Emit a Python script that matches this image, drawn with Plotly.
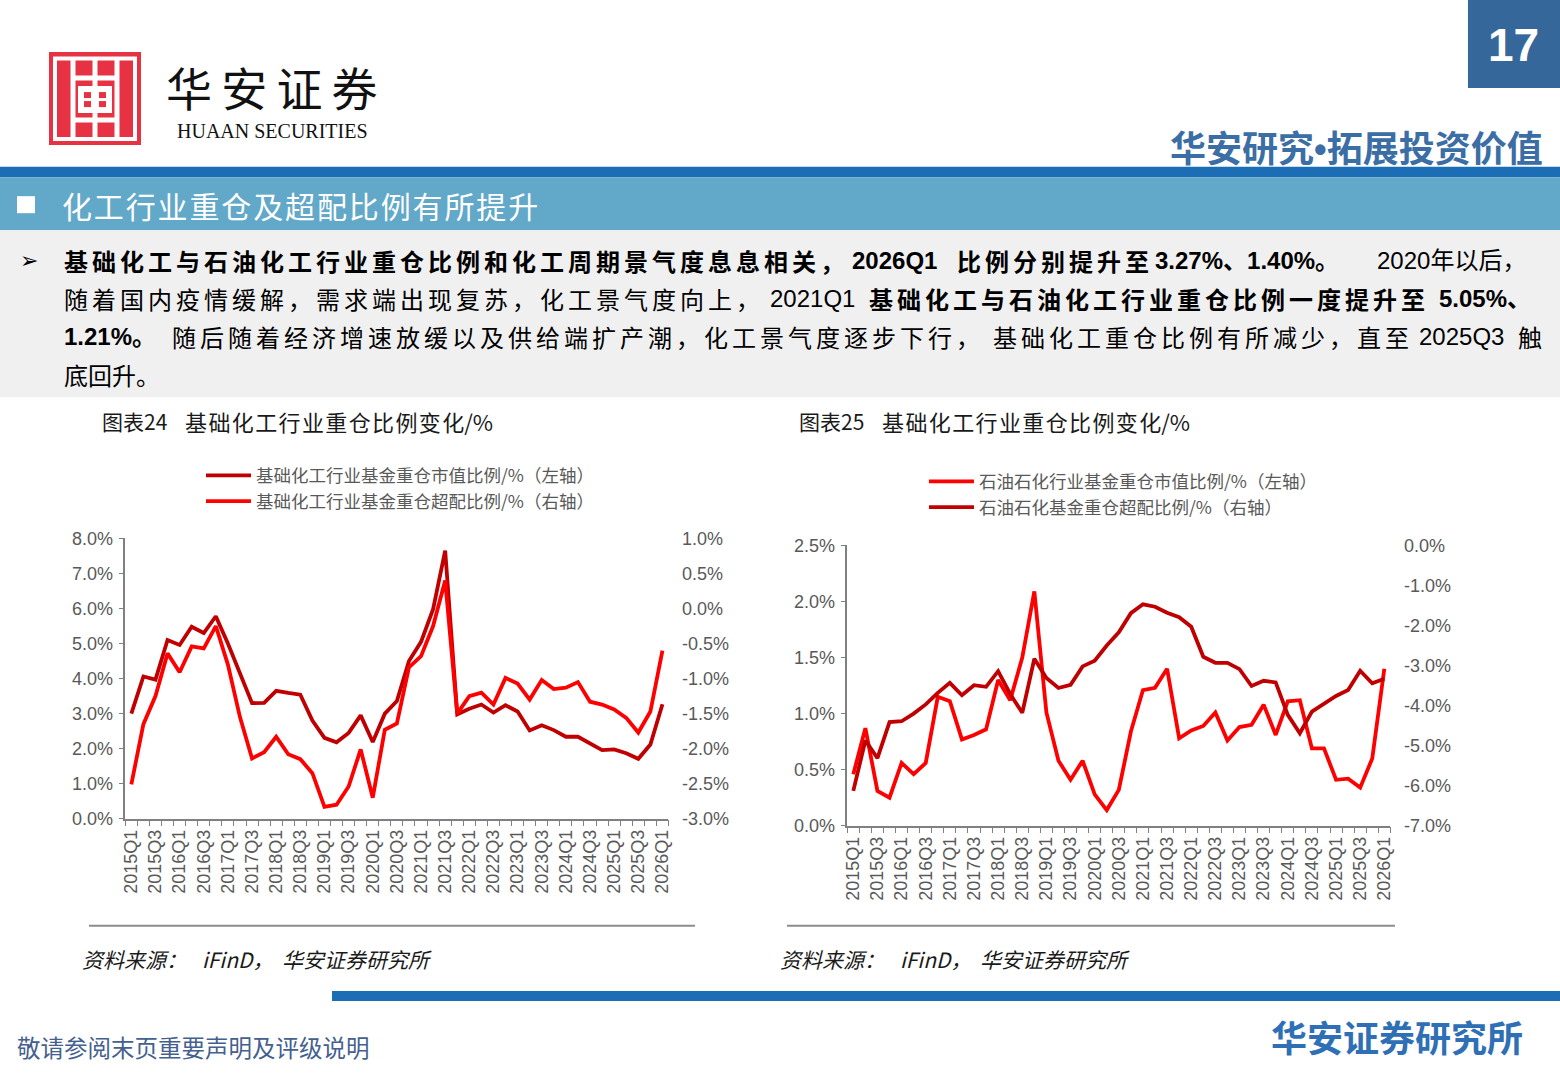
import plotly.graph_objects as go

W, H = 1560, 1080
# the rendered page is observed slightly inset; map intended page pixels to figure paper coords
SX, OX = 0.9949, 4.0
SY, OY = 0.9806, 10.0
def X(px): return ((px - OX) / SX) / W
def Y(py): return 1 - ((py - OY) / SY) / H

# ---------------- data ----------------
quarters = [f"{y}Q{q}" for y in range(2015, 2026) for q in (1, 2, 3, 4)] + ["2026Q1"]

chem_weight = [3.00, 4.06, 3.97, 5.10, 4.96, 5.48, 5.30, 5.78, 5.00, 4.17,
               3.30, 3.31, 3.65, 3.59, 3.54, 2.80, 2.31, 2.18, 2.45, 2.95,
               2.19, 3.00, 3.36, 4.50, 5.05, 5.98, 7.65, 2.98, 3.14, 3.26,
               3.03, 3.24, 3.06, 2.52, 2.67, 2.53, 2.34, 2.34, 2.14, 1.96,
               1.98, 1.87, 1.71, 2.12, 3.27]
chem_excess = [-2.51, -1.65, -1.25, -0.64, -0.91, -0.54, -0.57, -0.25, -0.80, -1.55,
               -2.14, -2.05, -1.83, -2.08, -2.15, -2.35, -2.83, -2.80, -2.54, -2.01,
               -2.70, -1.73, -1.64, -0.84, -0.68, -0.25, 0.40, -1.50, -1.25, -1.20,
               -1.37, -0.99, -1.07, -1.30, -1.02, -1.15, -1.13, -1.05, -1.33, -1.37,
               -1.44, -1.56, -1.77, -1.47, -0.60]
petro_weight = [0.46, 0.87, 0.31, 0.25, 0.56, 0.46, 0.56, 1.15, 1.11, 0.77,
                0.81, 0.86, 1.30, 1.12, 1.50, 2.09, 1.01, 0.58, 0.41, 0.58,
                0.28, 0.14, 0.32, 0.84, 1.21, 1.23, 1.40, 0.78, 0.85, 0.89,
                1.01, 0.76, 0.88, 0.90, 1.08, 0.81, 1.11, 1.12, 0.69, 0.69,
                0.41, 0.42, 0.34, 0.60, 1.40]
petro_excess = [-6.13, -4.87, -5.31, -4.41, -4.39, -4.20, -3.97, -3.68, -3.43, -3.74,
                -3.49, -3.53, -3.14, -3.71, -4.18, -2.83, -3.31, -3.56, -3.48, -3.02,
                -2.88, -2.50, -2.17, -1.69, -1.47, -1.53, -1.68, -1.79, -2.03, -2.78,
                -2.93, -2.93, -3.09, -3.51, -3.38, -3.42, -4.23, -4.69, -4.15, -3.96,
                -3.76, -3.61, -3.13, -3.44, -3.33]

c1_left_vals = [0, 1, 2, 3, 4, 5, 6, 7, 8]
c1_left_text = ["0.0%", "1.0%", "2.0%", "3.0%", "4.0%", "5.0%", "6.0%", "7.0%", "8.0%"]
c1_right_vals = [-3.0, -2.5, -2.0, -1.5, -1.0, -0.5, 0.0, 0.5, 1.0]
c1_right_text = ["-3.0%", "-2.5%", "-2.0%", "-1.5%", "-1.0%", "-0.5%", "0.0%", "0.5%", "1.0%"]
c2_left_vals = [0, 0.5, 1.0, 1.5, 2.0, 2.5]
c2_left_text = ["0.0%", "0.5%", "1.0%", "1.5%", "2.0%", "2.5%"]
c2_right_vals = [-7, -6, -5, -4, -3, -2, -1, 0]
c2_right_text = ["-7.0%", "-6.0%", "-5.0%", "-4.0%", "-3.0%", "-2.0%", "-1.0%", "0.0%"]

DARK = "#C00000"
BRIGHT = "#FF0000"
idx = list(range(len(quarters)))

fig = go.Figure()
fig.add_trace(go.Scatter(x=idx, y=chem_weight, mode="lines", name="基础化工行业基金重仓市值比例/%（左轴）",
                         line=dict(color=DARK, width=3.8), xaxis="x", yaxis="y", legend="legend"))
fig.add_trace(go.Scatter(x=idx, y=chem_excess, mode="lines", name="基础化工行业基金重仓超配比例/%（右轴）",
                         line=dict(color=BRIGHT, width=3.8), xaxis="x", yaxis="y2", legend="legend"))
fig.add_trace(go.Scatter(x=idx, y=petro_weight, mode="lines", name="石油石化行业基金重仓市值比例/%（左轴）",
                         line=dict(color=BRIGHT, width=3.8), xaxis="x2", yaxis="y3", legend="legend2"))
fig.add_trace(go.Scatter(x=idx, y=petro_excess, mode="lines", name="石油石化基金重仓超配比例/%（右轴）",
                         line=dict(color=DARK, width=3.8), xaxis="x2", yaxis="y4", legend="legend2"))

AXC = "#808080"
TICKF = dict(family="Liberation Sans, Arial, sans-serif", size=18, color="#595959")
minor_vals = [i - 0.5 for i in range(len(quarters) + 1)]

def xaxis_cfg(domain, anchor):
    return dict(domain=domain, anchor=anchor, range=[-0.5, len(quarters) - 0.5],
                tickmode="array", tickvals=idx[::2], ticktext=quarters[::2], tickangle=-90,
                showline=True, linecolor=AXC, linewidth=1.5, ticks="outside", ticklen=2,
                tickcolor="rgba(0,0,0,0)",
                minor=dict(tickmode="array", tickvals=minor_vals, ticks="outside", ticklen=6,
                           tickcolor=AXC, tickwidth=1.3),
                tickfont=TICKF, showgrid=False, zeroline=False, fixedrange=True)

def yleft_cfg(domain, anchor, rng, vals, text):
    return dict(domain=domain, anchor=anchor, range=rng, tickmode="array", tickvals=vals, ticktext=text,
                showline=True, linecolor=AXC, linewidth=1.5, ticks="outside", ticklen=5,
                tickcolor=AXC, tickwidth=1.3, tickfont=TICKF, ticklabelstandoff=2,
                showgrid=False, zeroline=False, fixedrange=True)

def yright_cfg(over, anchor, rng, vals, text):
    return dict(overlaying=over, anchor=anchor, side="right", range=rng, tickmode="array",
                tickvals=vals, ticktext=text, showline=False, ticks="outside", ticklen=9,
                tickcolor="rgba(0,0,0,0)", tickfont=TICKF, showgrid=False, zeroline=False,
                fixedrange=True)

LEGF = dict(family="Noto Sans CJK SC", size=17.5, color="#595959")
fig.update_layout(
    width=W, height=H, margin=dict(l=0, r=0, t=0, b=0),
    paper_bgcolor="white", plot_bgcolor="rgba(0,0,0,0)",
    xaxis=xaxis_cfg([X(125.3), X(668.5)], "y"),
    yaxis=yleft_cfg([Y(818), Y(538)], "x", [0, 8], c1_left_vals, c1_left_text),
    yaxis2=yright_cfg("y", "x", [-3, 1], c1_right_vals, c1_right_text),
    xaxis2=xaxis_cfg([X(847.3), X(1390.4)], "y3"),
    yaxis3=yleft_cfg([Y(825), Y(545)], "x2", [0, 2.5], c2_left_vals, c2_left_text),
    yaxis4=yright_cfg("y3", "x2", [-7, 0], c2_right_vals, c2_right_text),
    legend=dict(x=X(201), y=Y(457), xanchor="left", yanchor="top", bgcolor="rgba(0,0,0,0)",
                font=LEGF, tracegroupgap=0, itemwidth=45),
    legend2=dict(x=X(924), y=Y(463), xanchor="left", yanchor="top", bgcolor="rgba(0,0,0,0)",
                 font=LEGF, tracegroupgap=0, itemwidth=45),
    showlegend=True,
)

shapes = []
def rect(x0, y0, x1, y1, fill, line_w=0, line_c=None, layer="below"):
    shapes.append(dict(type="rect", xref="paper", yref="paper", x0=X(x0), x1=X(x1), y0=Y(y1), y1=Y(y0),
                       fillcolor=fill, line=dict(width=line_w, color=line_c or fill), layer=layer))
def hline(x0, x1, y, color, w):
    shapes.append(dict(type="line", xref="paper", yref="paper", x0=X(x0), x1=X(x1), y0=Y(y), y1=Y(y),
                       line=dict(color=color, width=w), layer="below"))
def vline(x, y0, y1, color, w):
    shapes.append(dict(type="line", xref="paper", yref="paper", x0=X(x), x1=X(x), y0=Y(y0), y1=Y(y1),
                       line=dict(color=color, width=w), layer="below"))

rect(1468, 0, 1565, 88, "#35679A")
rect(-5, 166.5, 1565, 177, "#1B6DB6")
rect(-5, 177, 1565, 230, "#62A8C8")
rect(17, 196, 35, 213, "white")
rect(-5, 230, 1565, 397, "#F0F0F0")
LR = "#E63242"
rect(49, 52, 141, 145, LR)
rect(55, 58.5, 135, 139, "rgba(0,0,0,0)", 4, "white")
vline(73, 58, 139, "white", 5)
vline(117, 58, 139, "white", 5)
hline(73, 117, 78, "white", 5)
hline(73, 117, 120, "white", 5)
rect(78, 86, 112, 113, "white")
rect(84, 92, 91, 98, LR)
rect(99, 92, 106, 98, LR)
rect(84, 101, 91, 107, LR)
rect(99, 101, 106, 107, LR)
vline(95, 58, 86, "white", 5)
vline(95, 113, 139, "white", 5)
hline(89, 695, 925, "#8C8C8C", 2)
hline(787, 1395, 925, "#8C8C8C", 2)
rect(332, 990, 1565, 1000, "#1B6DB6")
fig.update_layout(shapes=shapes)

ann = []
CJK = "Noto Sans CJK SC"
MIX = "Liberation Sans Narrow, Liberation Sans, Arial, Noto Sans CJK SC"
def text(s, x, y, size, color="#000000", family=CJK, xanchor="left"):
    ann.append(dict(text=s, x=X(x), y=Y(y), xref="paper", yref="paper", xanchor=xanchor, yanchor="middle",
                    showarrow=False, font=dict(family=family, size=size, color=color)))
def sp(s, ch="\u2006"):
    return ch.join(list(s))

text("<b>17</b>", 1514, 45, 46, "white", "Liberation Sans, Arial", "center")
text('<b>华安研究<span style="font-family:Liberation Sans">•</span>拓展投资价值</b>', 1545, 146, 36,
     "#3A6EA5", CJK, "right")
text(sp("华安证券", "\u2009"), 164, 86, 46, "#111111")
text("HUAAN SECURITIES", 175, 131, 20, "#111111", "Liberation Serif, Times New Roman")
text(sp("化工行业重仓及超配比例有所提升", "\u200a"), 60, 205, 30, "white")

text("➢", 18, 260, 22, "#000000", "DejaVu Sans")
BODY = 24
text("<b>" + sp("基础化工与石油化工行业重仓比例和化工周期景气度息息相关，") + "</b>", 62, 260, BODY)
text("<b>2026Q1</b>", 850, 260, BODY, family=MIX)
text("<b>" + sp("比例分别提升至") + "</b>", 955, 260, BODY)
text("<b>3.27%、1.40%。</b>", 1153, 260, BODY, family=MIX)
text("2020年以后，", 1375, 260, BODY, family=MIX)

text(sp("随着国内疫情缓解，需求端出现复苏，化工景气度向上，"), 62, 298, BODY)
text("2021Q1", 768, 298, BODY, family=MIX)
text("<b>" + sp("基础化工与石油化工行业重仓比例一度提升至") + "</b>", 867, 298, BODY)
text("<b>5.05%、</b>", 1437, 298, BODY, family=MIX)

text("<b>1.21%。</b>", 62, 336, BODY, family=MIX)
text(sp("随后随着经济增速放缓以及供给端扩产潮，化工景气度逐步下行，"), 170, 336, BODY)
text(sp("基础化工重仓比例有所减少，直至"), 991, 336, BODY)
text("2025Q3", 1417, 336, BODY, family=MIX)
text("触", 1516, 336, BODY)
text("底回升。", 62, 374, BODY)

text("图表24", 100, 421, 21, "#1A1A1A")
text(sp("基础化工行业重仓比例变化", "\u200a") + "/%", 183, 421, 22, "#1A1A1A")
text("图表25", 797, 421, 21, "#1A1A1A")
text(sp("基础化工行业重仓比例变化", "\u200a") + "/%", 880, 421, 22, "#1A1A1A")

for x0 in (80, 778):
    text("<i>资料来源：</i>", x0, 958, 21, "#1A1A1A")
    text("<i>iFinD，</i>", x0 + 120, 958, 21, "#1A1A1A")
    text("<i>华安证券研究所</i>", x0 + 200, 958, 21, "#1A1A1A")

text("敬请参阅末页重要声明及评级说明", 15, 1046, 23.5, "#44608E")
text("<b>华安证券研究所</b>", 1525, 1035, 36, "#2E6FB5", CJK, "right")

fig.update_layout(annotations=ann)
fig.write_html("out.html")
